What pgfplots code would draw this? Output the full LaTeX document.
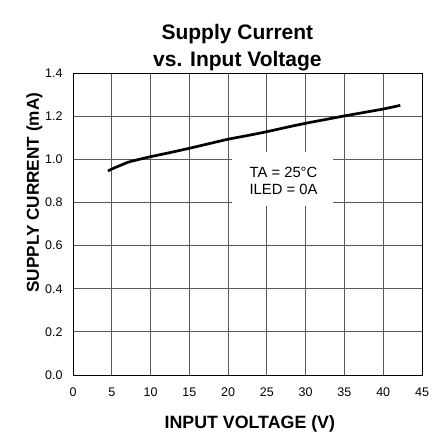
\documentclass[border=0pt]{standalone}
\usepackage{fontspec}
\setmainfont{Liberation Sans}
\usepackage{pgfplots}
\pgfplotsset{compat=1.18}
\begin{document}
\begin{tikzpicture}
\useasboundingbox (-73pt,-58pt) rectangle (370pt,375pt);
\begin{axis}[
  at={(0pt,0pt)}, anchor=south west,
  scale only axis, width=349pt, height=302pt,
  xmin=0, xmax=45, ymin=0, ymax=1.4,
  xtick={0,5,...,45}, ytick={0,0.2,...,1.4},
  grid=major,
  major grid style={draw=black!65, line width=0.9pt},
  axis line style={black, line width=0.8pt},
  tick style={draw=none},
  /pgf/number format/assume math mode=true,
  yticklabel style={/pgf/number format/fixed, /pgf/number format/fixed zerofill, /pgf/number format/precision=1},
  tick label style={font=\fontsize{12.5}{14}\selectfont},
  xticklabel style={yshift=-9pt},
  yticklabel style={xshift=-7pt},
  xlabel={\textbf{INPUT VOLTAGE (V)}},
  ylabel={\textbf{SUPPLY CURRENT (mA)}},
  xlabel style={font=\fontsize{17.8}{20}\selectfont, at={(axis cs:22.8,0)}, yshift=-37pt},
  ylabel style={font=\fontsize{17.2}{20}\selectfont, at={(axis cs:0,0.845)}, yshift=27pt},
  clip=false,
]
\addplot[black, line width=2.7pt, smooth] coordinates {
 (4.5,0.946) (5.2,0.958) (6,0.970) (7,0.985) (8,0.995) (10,1.012)
 (12.5,1.031) (15,1.051) (17.5,1.072) (20,1.093) (22.5,1.110) (25,1.128)
 (27.5,1.148) (30,1.167) (32.5,1.184) (35,1.201) (37.5,1.217) (40,1.233) (42.2,1.250)
};
\fill[white] (axis cs:20.5,0.785) rectangle (axis cs:33.5,1.034);
\node[align=center, font=\fontsize{14.8}{17.3}\selectfont] at (axis cs:27.14,0.9) {TA = 25°C\\ILED = 0A};
\node[align=center, font=\bfseries\fontsize{21}{27}\selectfont, anchor=south] at (axis cs:21.2,1.4) [yshift=-1pt] {Supply Current\\vs. Input Voltage};
\end{axis}
\end{tikzpicture}
\end{document}
